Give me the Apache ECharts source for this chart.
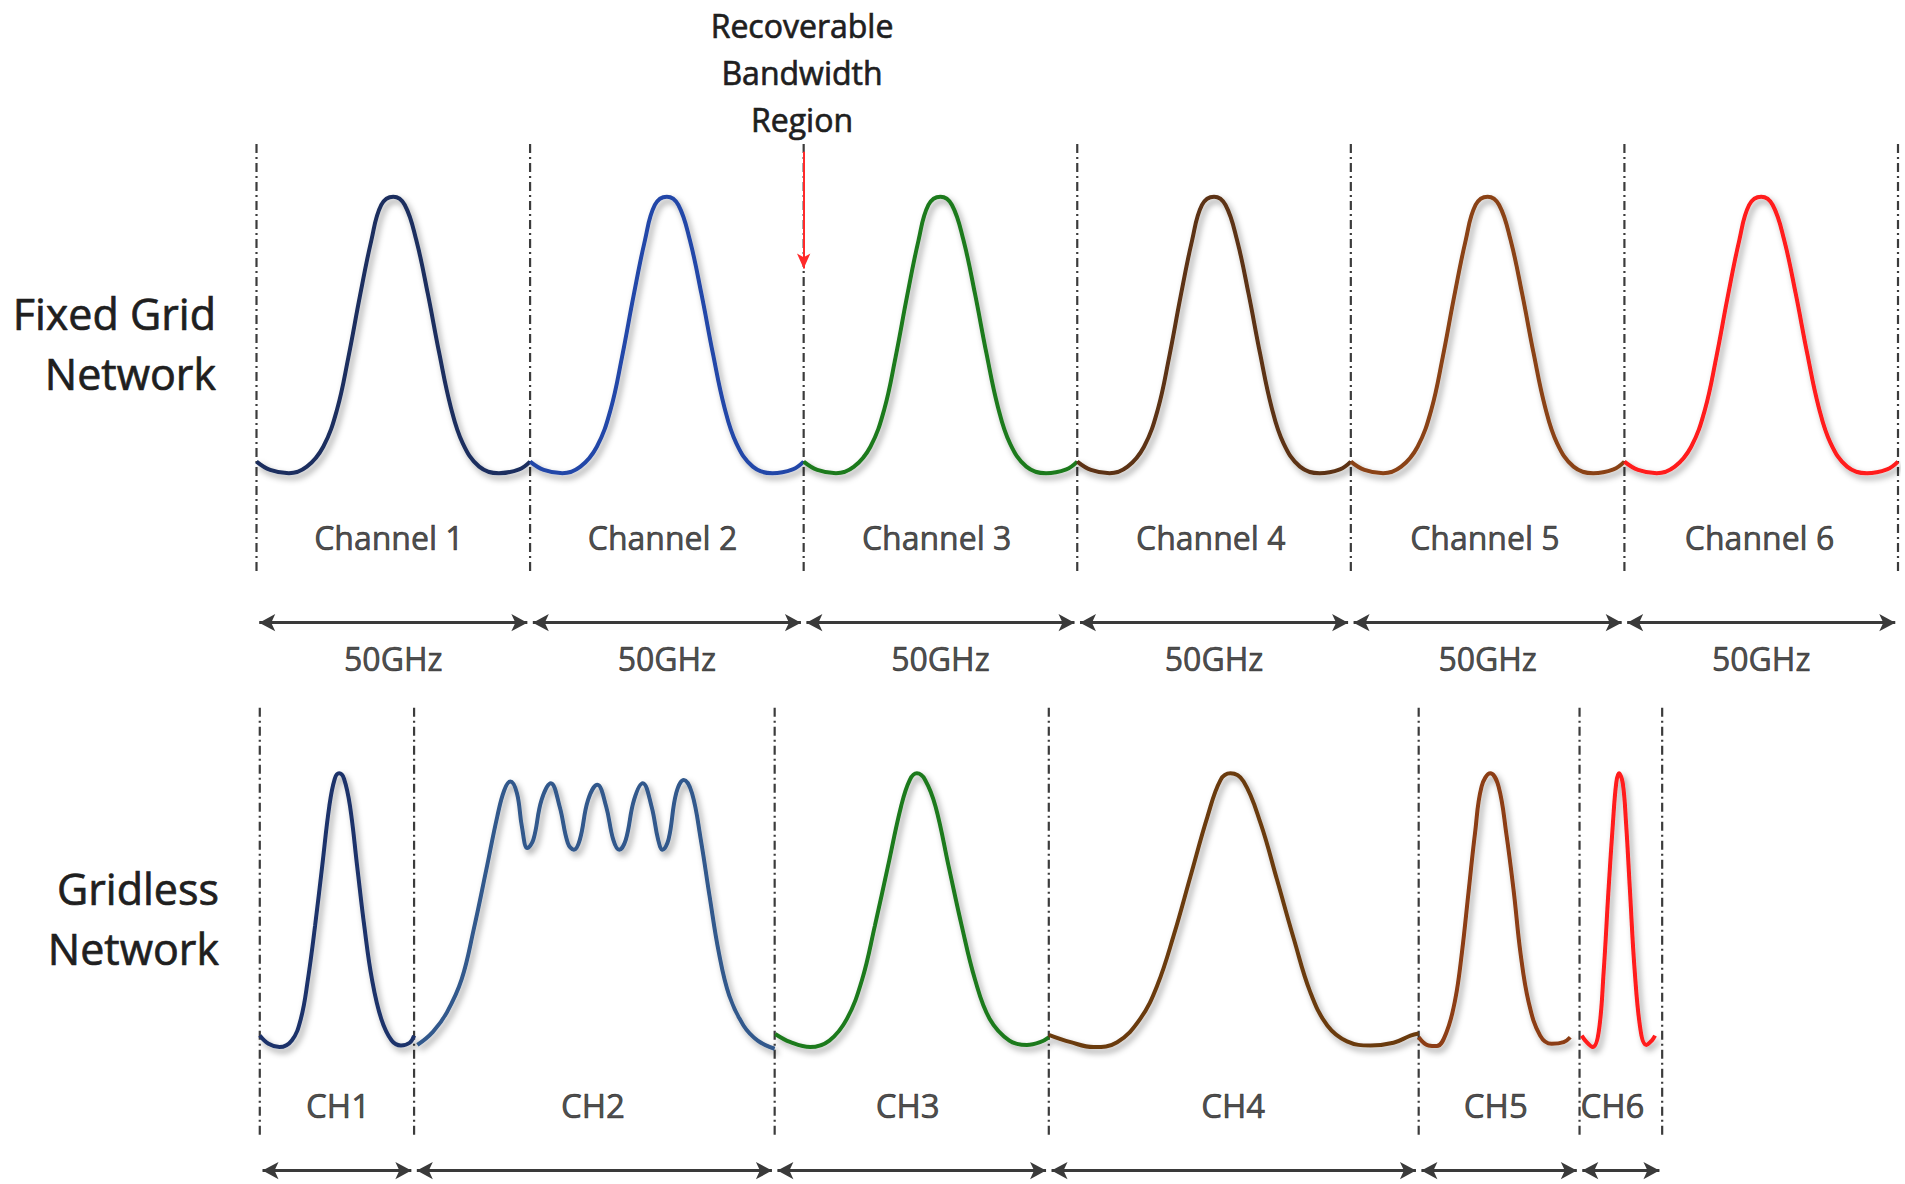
<!DOCTYPE html>
<html><head><meta charset="utf-8">
<script src="https://cdn.jsdelivr.net/npm/echarts@6/dist/echarts.min.js"></script>
<style>html,body{margin:0;padding:0;background:#fff}#c{width:1905px;height:1184px}</style>
</head><body><div id="c"></div>
<script>
// ---------------- DATA (GHz on x, normalised power on y) ----------------
const fixedBoundaries = [0, 50, 100, 150, 200, 250, 300];
const fixedStarts = [0, 50, 100, 150, 200, 250];
const fixedNames = ['Channel 1', 'Channel 2', 'Channel 3', 'Channel 4', 'Channel 5', 'Channel 6'];
const fixedLabelX = [24.2, 74.2, 124.3, 174.4, 224.5, 274.7];
const spacingLabels = ['50GHz', '50GHz', '50GHz', '50GHz', '50GHz', '50GHz'];
const spacingLabelX = [25, 75, 125, 175, 225, 275];
// one fixed-grid channel profile, local GHz from channel start
const fixedProfile = [[0,0.042],[2.5,0.012],[5.9,0],[9.2,0.024],[12.2,0.096],[14.7,0.229],[16.8,0.42],[18.9,0.64],[21.0,0.843],[22.8,0.97],[25.0,1.0],[27.1,0.97],[29.2,0.843],[31.3,0.65],[33.4,0.434],[35.5,0.24],[37.7,0.108],[40.7,0.024],[44.3,0],[48.0,0.014],[50,0.042]];

const gridlessBoundaries = [0.6, 28.8, 94.7, 144.8, 212.4, 241.8, 256.9];
const gridlessNames = ['CH1', 'CH2', 'CH3', 'CH4', 'CH5', 'CH6'];
const gridlessLabelX = [14.9, 61.5, 119.0, 178.5, 226.5, 247.8];
const gridlessCH1 = [[0.6,0.042],[2.2,0.012],[4.2,0],[6.45,0.024],[8.1,0.103],[9.4,0.248],[10.7,0.442],[12.0,0.66],[13.3,0.879],[14.3,0.98],[15.1,1.0],[16.0,0.98],[17.1,0.879],[18.4,0.66],[19.7,0.442],[21.1,0.248],[22.8,0.103],[24.7,0.024],[26.4,0.006],[28.0,0.016],[28.8,0.042]];
const gridlessCH2 = [[29.4,0.008],[32.2,0.055],[34.8,0.127],[37.5,0.248],[39.7,0.43],[42.0,0.648],[44.0,0.842],[45.3,0.939],[46.4,0.97],[47.6,0.927],[48.5,0.806],[49.5,0.727],[50.6,0.758],[52.1,0.903],[53.8,0.964],[55.4,0.879],[56.9,0.745],[58.0,0.721],[59.1,0.758],[60.6,0.903],[62.3,0.958],[63.9,0.879],[65.2,0.758],[66.3,0.721],[67.5,0.758],[69.0,0.903],[70.6,0.964],[72.2,0.879],[73.4,0.758],[74.2,0.721],[75.3,0.758],[76.7,0.927],[78.1,0.976],[79.6,0.927],[81.2,0.758],[82.8,0.552],[84.5,0.345],[86.4,0.188],[89.0,0.079],[91.6,0.024],[94.7,-0.006]];
const gridlessCH3 = [[94.8,0.048],[97.6,0.018],[101.2,0],[104.7,0.024],[107.9,0.103],[110.7,0.248],[113.0,0.442],[115.4,0.66],[117.8,0.879],[119.4,0.976],[120.7,1.0],[122.2,0.976],[124.1,0.879],[126.5,0.66],[128.9,0.442],[131.3,0.248],[134.0,0.103],[137.6,0.024],[140.8,0.008],[143.2,0.018],[144.8,0.036]];
const gridlessCH4 = [[144.8,0.045],[148.8,0.018],[153.0,0],[157.3,0.018],[161.5,0.103],[164.6,0.224],[167.6,0.406],[170.7,0.624],[173.8,0.842],[176.2,0.976],[178.0,1.0],[180.4,0.97],[183.5,0.818],[186.5,0.612],[189.6,0.394],[192.6,0.2],[195.7,0.079],[199.3,0.021],[203.6,0.006],[207.8,0.016],[210.9,0.042],[212.4,0.05]];
const gridlessCH5 = [[212.4,0.036],[214.2,0.006],[215.7,0.004],[217.5,0.055],[219.1,0.176],[220.3,0.345],[221.5,0.564],[222.7,0.782],[223.9,0.952],[225.5,1.0],[227.0,0.952],[228.4,0.782],[229.8,0.564],[231.0,0.345],[232.5,0.164],[234.6,0.042],[236.7,0.012],[238.9,0.018],[240.1,0.036]];
const gridlessCH6 = [[242.2,0.042],[243.1,0.018],[244.2,0],[245.3,0.055],[246.2,0.273],[247.1,0.576],[247.9,0.818],[248.5,0.964],[249.0,1.0],[249.7,0.964],[250.3,0.818],[251.0,0.576],[251.9,0.273],[253.0,0.055],[254.0,0.008],[255.0,0.024],[255.6,0.042]];
const recoverableAtGHz = 100;

// ---------------- STYLE / LAYOUT ----------------
const fixedColors = ['#1b2f5e', '#2447a8', '#1e7a1e', '#5c3312', '#8a4215', '#ff1a1a'];
const gridlessColors = ['#1c336b', '#31598c', '#1e7a1e', '#6a3a10', '#8c3e12', '#ff1a1a'];
const TXT = '#1f1f1f';
const FONT = 'Open Sans';
const L = { top: { lo: -0.353, hi: 1.205, label: -0.234, arrow: -0.54, spacing: -0.671 },
            bot: { lo: -0.32, hi: 1.249, label: -0.214, arrow: -0.451 } };

const chart = echarts.init(document.getElementById('c'), null, { renderer: 'svg' });

function curve(data, color, gi) {
  return { type: 'line', xAxisIndex: gi, yAxisIndex: gi, data: data, smooth: 0.4,
    symbol: 'none', showSymbol: false, silent: true, z: 3, clip: false,
    lineStyle: { color: color, width: 4, shadowColor: 'rgba(0,0,0,0.38)', shadowBlur: 6, shadowOffsetX: 3, shadowOffsetY: 4 } };
}
function vline(x, lo, hi, gi) {
  return { type: 'line', xAxisIndex: gi, yAxisIndex: gi, data: [[x, lo], [x, hi]],
    symbol: 'none', silent: true, z: 2, clip: false,
    lineStyle: { color: '#3c3c3c', width: 2.2, type: [9, 4, 2, 4] } };
}
function labels(names, xs, y, gi, size) {
  return { type: 'scatter', xAxisIndex: gi, yAxisIndex: gi, clip: false, silent: true,
    symbol: 'circle', symbolSize: 1, itemStyle: { color: 'rgba(0,0,0,0)' },
    data: names.map((n, i) => ({ name: n, value: [xs[i], y] })),
    label: { show: true, position: 'inside', formatter: '{b}', color: TXT, fontSize: size, fontFamily: FONT,
      textBorderColor: TXT, textBorderWidth: 0.7 } };
}
function arrows(bounds, y, gi) {
  const d = [];
  for (let i = 0; i < bounds.length - 1; i++) d.push([{ coord: [bounds[i] + 0.5, y] }, { coord: [bounds[i + 1] - 0.5, y] }]);
  return { type: 'line', xAxisIndex: gi, yAxisIndex: gi, data: [], symbol: 'none', silent: true,
    markLine: { silent: true, animation: false, symbol: ['arrow', 'arrow'], symbolSize: [13, 16],
      label: { show: false }, lineStyle: { color: '#3a3a3a', width: 3.2, type: 'solid' }, data: d } };
}

const series = [];
fixedBoundaries.forEach(b => series.push(vline(b, L.top.lo, L.top.hi, 0)));
gridlessBoundaries.forEach(b => series.push(vline(b, L.bot.lo, L.bot.hi, 1)));
fixedStarts.forEach((s, i) => series.push(curve(fixedProfile.map(p => [s + p[0], p[1]]), fixedColors[i], 0)));
[gridlessCH1, gridlessCH2, gridlessCH3, gridlessCH4, gridlessCH5, gridlessCH6]
  .forEach((d, i) => series.push(curve(d, gridlessColors[i], 1)));
series.push(labels(fixedNames, fixedLabelX, L.top.label, 0, 32));
series.push(labels(spacingLabels, spacingLabelX, L.top.spacing, 0, 32));
series.push(labels(gridlessNames, gridlessLabelX, L.bot.label, 1, 33));
series.push(arrows(fixedBoundaries, L.top.arrow, 0));
series.push(arrows(gridlessBoundaries, L.bot.arrow, 1));
// recoverable bandwidth arrow
series.push({ type: 'line', xAxisIndex: 0, yAxisIndex: 0, data: [], symbol: 'none', silent: true,
  markLine: { silent: true, animation: false, symbol: ['none', 'arrow'], symbolSize: [10, 15],
    label: { show: false }, lineStyle: { color: '#ff2a2a', width: 2, type: 'solid' },
    data: [[{ coord: [recoverableAtGHz, 1.162] }, { coord: [recoverableAtGHz, 0.74] }]] } });

const axisOff = { show: false };
const titleStyle = (txt, size, lh, align) => ({ text: txt, align: align, verticalAlign: 'middle', lineHeight: lh,
  fill: TXT, stroke: TXT, lineWidth: 0.7, font: size + 'px "' + FONT + '"' });
chart.setOption({
  animation: false,
  backgroundColor: '#ffffff',
  grid: [
    { left: 256.5, width: 1641.5, top: 135.8, height: 531.1 },
    { left: 256.5, width: 1641.5, top: 691.2, height: 494.5 }
  ],
  xAxis: [
    Object.assign({ type: 'value', gridIndex: 0, min: 0, max: 300 }, axisOff),
    Object.assign({ type: 'value', gridIndex: 1, min: 0, max: 300 }, axisOff)
  ],
  yAxis: [
    Object.assign({ type: 'value', gridIndex: 0, min: -0.7, max: 1.22 }, axisOff),
    Object.assign({ type: 'value', gridIndex: 1, min: -0.5, max: 1.3 }, axisOff)
  ],
  graphic: [
    { type: 'text', x: 216, y: 343, silent: true, style: titleStyle('Fixed Grid\nNetwork', 43, 60, 'right') },
    { type: 'text', x: 219, y: 918, silent: true, style: titleStyle('Gridless\nNetwork', 43, 60, 'right') },
    { type: 'text', x: 802, y: 72, silent: true, style: titleStyle('Recoverable\nBandwidth\nRegion', 32, 47, 'center') }
  ],
  series: series
});
</script></body></html>
